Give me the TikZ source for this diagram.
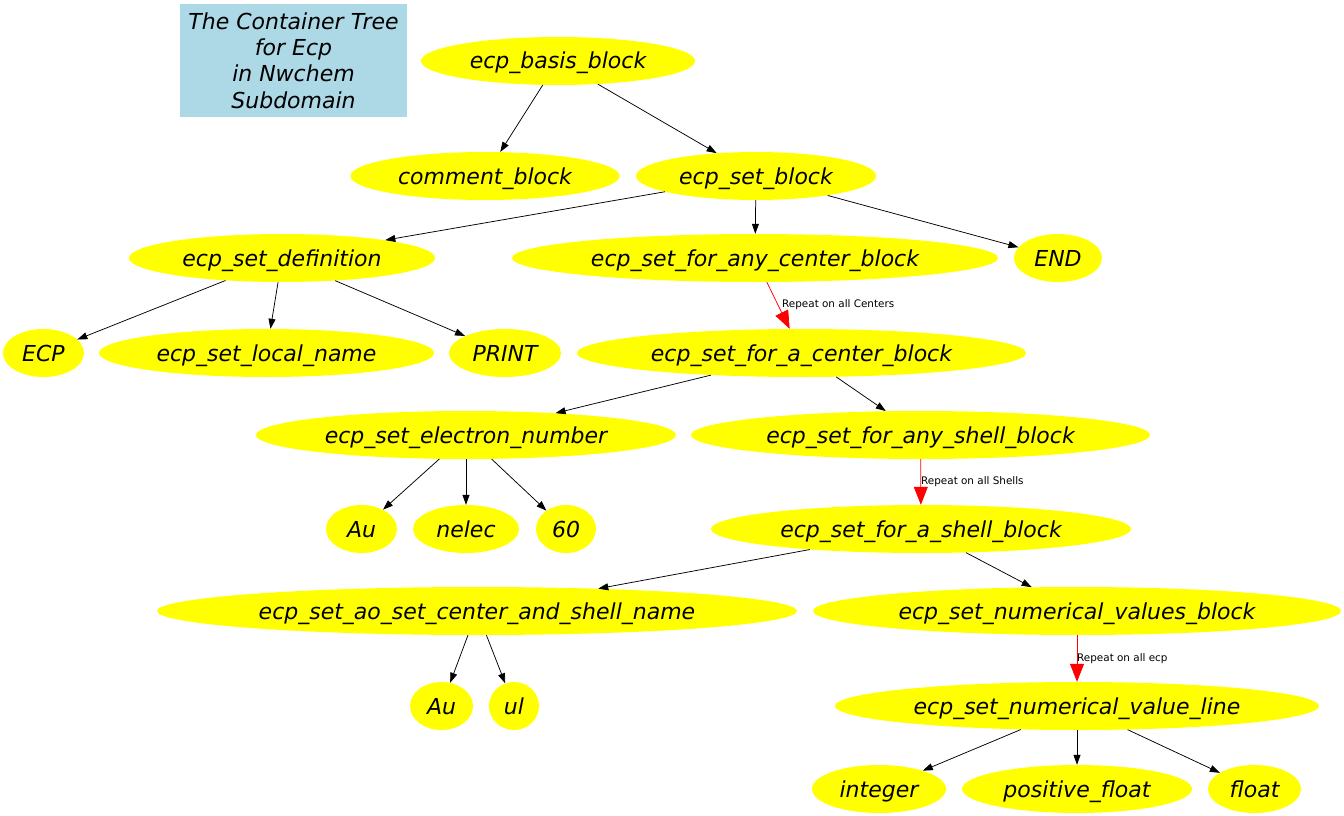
\documentclass[tikz,border=0pt]{standalone}
\usepackage{fontspec}
\setmainfont{DejaVu Sans}
\usetikzlibrary{shapes.geometric,arrows.meta}
\definecolor{lightblue}{HTML}{ADD8E6}
\definecolor{gvyellow}{HTML}{FFFF00}
\definecolor{gvred}{HTML}{FF0000}
\tikzset{
 el/.style={ellipse, fill=gvyellow, inner sep=0pt, minimum height=48pt, text height=21pt, text depth=5pt, font=\fontsize{22}{26}\selectfont\itshape},
 ed/.style={draw=black, line width=0.75pt, -{Triangle[length=10pt,width=7pt]}},
 rep/.style={draw=gvred, line width=0.75pt, -{Triangle[length=18pt,width=14pt]}},
 lab/.style={font=\fontsize{10.4}{12}\selectfont, anchor=west, inner sep=0pt},
 titlebox/.style={rectangle, fill=lightblue, inner sep=0pt, minimum width=227pt, minimum height=113pt, align=center, font=\fontsize{22}{26.4}\selectfont\itshape},
}
\begin{document}
\begin{tikzpicture}[x=1pt,y=-1pt]
\useasboundingbox (0,0) rectangle (1344,816);
\node[titlebox] (title) at (293.5,60.5) {The Container Tree\\for Ecp\\in Nwchem\\Subdomain};

\node[el, minimum width=274pt] (basis) at (558,61) {ecp\_basis\_block};
\node[el, minimum width=269pt] (comment) at (485,176) {comment\_block};
\node[el, minimum width=240pt] (setblock) at (756,176) {ecp\_set\_block};
\node[el, minimum width=306pt] (setdef) at (282,258) {ecp\_set\_definition};
\node[el, minimum width=486pt] (anycenter) at (755,258) {ecp\_set\_for\_any\_center\_block};
\node[el, minimum width=88pt] (end) at (1058,258) {END};
\node[el, minimum width=81pt] (ecp) at (43.5,353) {ECP};
\node[el, minimum width=335pt] (localname) at (266.5,353) {ecp\_set\_local\_name};
\node[el, minimum width=112pt] (print) at (505,353) {PRINT};
\node[el, minimum width=449pt] (acenter) at (801.5,353) {ecp\_set\_for\_a\_center\_block};
\node[el, minimum width=420pt] (electron) at (466,435) {ecp\_set\_electron\_number};
\node[el, minimum width=459pt] (anyshell) at (920.5,435) {ecp\_set\_for\_any\_shell\_block};
\node[el, minimum width=71pt] (au1) at (361.5,529) {Au};
\node[el, minimum width=106pt] (nelec) at (466,529) {nelec};
\node[el, minimum width=60pt] (sixty) at (566,529) {60};
\node[el, minimum width=420pt] (ashell) at (921,529) {ecp\_set\_for\_a\_shell\_block};
\node[el, minimum width=640pt] (aoset) at (477,611) {ecp\_set\_ao\_set\_center\_and\_shell\_name};
\node[el, minimum width=528pt] (numblock) at (1077,611) {ecp\_set\_numerical\_values\_block};
\node[el, minimum width=63pt] (au2) at (441.5,706) {Au};
\node[el, minimum width=50pt] (ul) at (514,706) {ul};
\node[el, minimum width=484pt] (valline) at (1077,706) {ecp\_set\_numerical\_value\_line};
\node[el, minimum width=134pt] (integer) at (879,789) {integer};
\node[el, minimum width=230pt] (posfloat) at (1077,789) {positive\_float};
\node[el, minimum width=93pt] (float) at (1254.5,789) {float};

\draw[ed] (basis) -- (comment);
\draw[ed] (basis) -- (setblock);
\draw[ed] (setblock) -- (setdef);
\draw[ed] (setblock) -- (anycenter);
\draw[ed] (setblock) -- (end);
\draw[ed] (setdef) -- (ecp);
\draw[ed] (setdef) -- (localname);
\draw[ed] (setdef) -- (print);
\draw[rep] (anycenter) -- (acenter);
\draw[ed] (acenter) -- (electron);
\draw[ed] (acenter) -- (anyshell);
\draw[ed] (electron) -- (au1);
\draw[ed] (electron) -- (nelec);
\draw[ed] (electron) -- (sixty);
\draw[rep] (anyshell) -- (ashell);
\draw[ed] (ashell) -- (aoset);
\draw[ed] (ashell) -- (numblock);
\draw[ed] (aoset) -- (au2);
\draw[ed] (aoset) -- (ul);
\draw[rep] (numblock) -- (valline);
\draw[ed] (valline) -- (integer);
\draw[ed] (valline) -- (posfloat);
\draw[ed] (valline) -- (float);

\node[lab] (l1) at (782,305) {Repeat on all Centers};
\node[lab] (l2) at (921,482) {Repeat on all Shells};
\node[lab] (l3) at (1077,659) {Repeat on all ecp};
\end{tikzpicture}
\end{document}
